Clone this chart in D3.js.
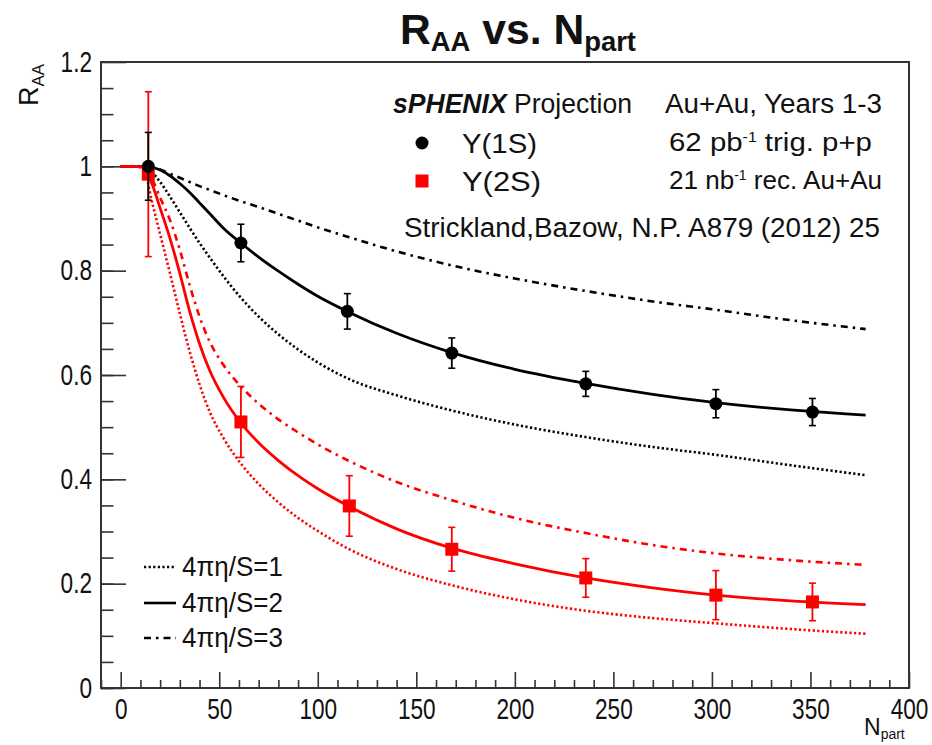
<!DOCTYPE html>
<html lang="en">
  <head>
    <meta charset="utf-8">
    <title>RAA vs. Npart</title>
    <script src="https://cdn.jsdelivr.net/npm/d3@7"></script>
    <style>
      body { margin: 0; background: #fff; }
      text { font-family: "Liberation Sans", Arial, Helvetica, sans-serif; fill: #111; }
    </style>
  </head>
  <body>
    <script>
      // Y(1S) projected points
      var nPart1S = [14, 61, 115, 168, 236, 302, 351]
      var raa1S   = [1.0, 0.853, 0.722, 0.642, 0.583, 0.545, 0.529]
      var err1S   = [0.065, 0.036, 0.034, 0.029, 0.024, 0.027, 0.026]

      // Y(2S) projected points
      var nPart2S = [14, 61, 116, 168, 236, 302, 351]
      var raa2S   = [0.985, 0.51, 0.349, 0.266, 0.211, 0.178, 0.165]
      var err2S   = [0.158, 0.068, 0.058, 0.042, 0.037, 0.047, 0.036]

      // model curves (Strickland, Bazow), sampled on a common Npart grid
      var curveN    = [0, 8, 12, 16, 20, 25, 30, 35, 40, 45, 52, 61, 70, 80, 90, 100, 116, 140, 168, 200, 236, 270, 302, 340, 378]
      var r1S_eta1  = [1, 1, 0.998, 0.988, 0.97, 0.942, 0.912, 0.882, 0.853, 0.826, 0.79, 0.748, 0.712, 0.678, 0.649, 0.624, 0.592, 0.561, 0.532, 0.505, 0.481, 0.462, 0.447, 0.427, 0.408]
      var r1S_eta2  = [1, 1, 1, 0.998, 0.993, 0.982, 0.967, 0.95, 0.93, 0.91, 0.882, 0.853, 0.826, 0.799, 0.774, 0.751, 0.72, 0.68, 0.643, 0.611, 0.584, 0.563, 0.547, 0.533, 0.523]
      var r1S_eta3  = [1, 1, 1, 0.998, 0.994, 0.986, 0.978, 0.97, 0.962, 0.955, 0.945, 0.933, 0.922, 0.909, 0.896, 0.883, 0.864, 0.837, 0.81, 0.785, 0.761, 0.741, 0.725, 0.705, 0.688]
      var r2S_eta1  = [1, 1, 0.99, 0.93, 0.87, 0.795, 0.718, 0.645, 0.582, 0.531, 0.48, 0.43, 0.391, 0.356, 0.326, 0.301, 0.266, 0.228, 0.197, 0.17, 0.148, 0.134, 0.124, 0.113, 0.104]
      var r2S_eta2  = [1, 1, 0.997, 0.965, 0.92, 0.862, 0.795, 0.722, 0.66, 0.61, 0.558, 0.508, 0.47, 0.436, 0.407, 0.382, 0.348, 0.305, 0.268, 0.238, 0.211, 0.192, 0.178, 0.167, 0.16]
      var r2S_eta3  = [1, 1, 0.998, 0.975, 0.94, 0.897, 0.84, 0.772, 0.712, 0.665, 0.62, 0.578, 0.545, 0.515, 0.49, 0.467, 0.435, 0.395, 0.36, 0.326, 0.297, 0.274, 0.258, 0.245, 0.236]

      // axis ticks
      var xMajorTicks = [0, 50, 100, 150, 200, 250, 300, 350, 400]
      var yMajorTicks = [0, 0.2, 0.4, 0.6, 0.8, 1.0, 1.2]
      var legendLabels = ['4\u03c0\u03b7/S=1', '4\u03c0\u03b7/S=2', '4\u03c0\u03b7/S=3']

      var width = 932, height = 745
      var svg = d3.select('body').append('svg').attr('width', width).attr('height', height)

      var x = d3.scaleLinear().domain([-10, 400]).range([101, 909])
      var y = d3.scaleLinear().domain([0, 1.2]).range([688, 62])

      var dotted = '2.2,2.4', dashDot = '7,5,2.5,5'

      // ---- axes (ROOT style: ticks inside the frame) ----
      var labelScale = 0.78
      var xAxis = svg.append('g').attr('transform', 'translate(0,688)')
        .call(d3.axisBottom(x).tickValues(xMajorTicks).tickSize(-16).tickPadding(10))
      var xMinor = svg.append('g').attr('transform', 'translate(0,688)')
        .call(d3.axisBottom(x).tickValues(d3.range(-10, 400, 10).filter(function(d) { return d % 50 != 0 }))
          .tickSize(-8).tickFormat(''))

      var yAxis = svg.append('g').attr('transform', 'translate(101,0)')
        .call(d3.axisLeft(y).tickValues(yMajorTicks).tickSize(-25).tickPadding(9)
          .tickFormat(function(d) { return (d == 0 || d == 1) ? d3.format('d')(d) : d3.format('.1f')(d) }))
      var yMinor = svg.append('g').attr('transform', 'translate(101,0)')
        .call(d3.axisLeft(y).tickValues(d3.range(0, 1.2, 0.05)).tickSize(-12.5).tickFormat(''))

      svg.selectAll('.domain').remove()
      svg.selectAll('.tick line').attr('stroke', '#333').attr('stroke-width', 1.6)
      xAxis.selectAll('text').attr('font-size', 29).attr('fill', '#111')
        .attr('transform', 'scale(' + labelScale + ',1)')
      yAxis.selectAll('text').attr('font-size', 29).attr('fill', '#111')
        .attr('x', -9 / labelScale).attr('transform', 'scale(' + labelScale + ',1)')

      // frame
      svg.append('rect').attr('x', 101).attr('y', 62).attr('width', 808).attr('height', 626)
        .attr('fill', 'none').attr('stroke', '#333').attr('stroke-width', 2)

      // ---- model curves ----
      var line = d3.line()
        .x(function(d) { return x(d[0]) })
        .y(function(d) { return y(d[1]) })
        .curve(d3.curveMonotoneX)

      var curves = [
        { values: r1S_eta1, color: '#000', dash: dotted, w: 2.6 },
        { values: r1S_eta3, color: '#000', dash: dashDot, w: 2.6 },
        { values: r1S_eta2, color: '#000', dash: null, w: 2.8 },
        { values: r2S_eta1, color: '#ff0000', dash: dotted, w: 2.6 },
        { values: r2S_eta3, color: '#ff0000', dash: dashDot, w: 2.6 },
        { values: r2S_eta2, color: '#ff0000', dash: null, w: 2.8 }
      ]
      curves.forEach(function(c) {
        svg.append('path')
          .datum(d3.zip(curveN, c.values))
          .attr('d', line)
          .attr('fill', 'none')
          .attr('stroke', c.color)
          .attr('stroke-width', c.w)
          .attr('stroke-dasharray', c.dash)
      })

      // ---- points with error bars ----
      function drawPoints(ns, vals, errs, color, shape) {
        var g = svg.append('g')
        var pts = d3.zip(ns, vals, errs)
        g.selectAll('line.err').data(pts).enter().append('line')
          .attr('x1', function(d) { return x(d[0]) }).attr('x2', function(d) { return x(d[0]) })
          .attr('y1', function(d) { return y(d[1] - d[2]) }).attr('y2', function(d) { return y(d[1] + d[2]) })
          .attr('stroke', color).attr('stroke-width', 1.8)
        ;['lo', 'hi'].forEach(function(side) {
          g.selectAll('line.cap' + side).data(pts).enter().append('line')
            .attr('x1', function(d) { return x(d[0]) - 3.5 }).attr('x2', function(d) { return x(d[0]) + 3.5 })
            .attr('y1', function(d) { return y(side == 'lo' ? d[1] - d[2] : d[1] + d[2]) })
            .attr('y2', function(d) { return y(side == 'lo' ? d[1] - d[2] : d[1] + d[2]) })
            .attr('stroke', color).attr('stroke-width', 1.6)
        })
        if (shape == 'circle') {
          g.selectAll('circle').data(pts).enter().append('circle')
            .attr('cx', function(d) { return x(d[0]) }).attr('cy', function(d) { return y(d[1]) })
            .attr('r', 6.5).attr('fill', color)
        } else {
          g.selectAll('rect').data(pts).enter().append('rect')
            .attr('x', function(d) { return x(d[0]) - 6.5 }).attr('y', function(d) { return y(d[1]) - 6.5 })
            .attr('width', 13).attr('height', 13).attr('fill', color)
        }
      }
      drawPoints(nPart2S, raa2S, err2S, '#ff0000', 'square')
      drawPoints(nPart1S, raa1S, err1S, '#000', 'circle')

      // ---- text helpers ----
      function addText(px, py, size, len, parts, opts) {
        opts = opts || {}
        var t = svg.append('text').attr('x', px).attr('y', py).attr('font-size', size)
        if (len) t.attr('textLength', len).attr('lengthAdjust', 'spacingAndGlyphs')
        if (opts.anchor) t.attr('text-anchor', opts.anchor)
        if (opts.weight) t.attr('font-weight', opts.weight)
        parts.forEach(function(p) {
          var s = t.append('tspan').text(p.t)
          if (p.size) s.attr('font-size', p.size)
          if (p.dy) s.attr('dy', p.dy)
          if (p.italic) s.attr('font-style', 'italic')
          if (p.bold) s.attr('font-weight', 'bold')
        })
        return t
      }

      // title
      addText(400, 44, 42, 236, [
        { t: 'R' }, { t: 'AA', size: 27, dy: 7 }, { t: ' vs. ', dy: -7 },
        { t: 'N' }, { t: 'part', size: 27, dy: 7 }
      ], { weight: 'bold' })

      // y-axis title (rotated)
      var yt = svg.append('text').attr('transform', 'translate(38,106) rotate(-90)').attr('font-size', 27)
      yt.append('tspan').text('R')
      yt.append('tspan').text('AA').attr('font-size', 17).attr('dy', 6)

      // x-axis title
      var xt = svg.append('text').attr('x', 864).attr('y', 735).attr('font-size', 23)
      xt.append('tspan').text('N')
      xt.append('tspan').text('part').attr('font-size', 14).attr('dy', 4)

      // top-right legend
      addText(393, 113, 27, 239, [{ t: 'sPHENIX', bold: true, italic: true }, { t: ' Projection' }])
      addText(665, 113, 27, 217, [{ t: 'Au+Au, Years 1-3' }])
      svg.append('circle').attr('cx', 422).attr('cy', 143).attr('r', 6.5).attr('fill', '#000')
      addText(462, 153, 27, 75, [{ t: '\u03a5(1S)' }])
      addText(669, 151, 26, 203, [{ t: '62 pb' }, { t: '-1', size: 14, dy: -9 }, { t: ' trig. p+p', dy: 9 }])
      svg.append('rect').attr('x', 415.5).attr('y', 174.5).attr('width', 13).attr('height', 13).attr('fill', '#ff0000')
      addText(462, 191, 27, 79, [{ t: '\u03a5(2S)' }])
      addText(669, 189, 26, 213, [{ t: '21 nb' }, { t: '-1', size: 14, dy: -9 }, { t: ' rec. Au+Au', dy: 9 }])
      addText(404, 237, 27, 476, [{ t: 'Strickland,Bazow, N.P. A879 (2012) 25' }])

      // bottom-left legend (line styles)
      var legendY = [567, 603, 638]
      var legendDash = [dotted, null, dashDot]
      legendLabels.forEach(function(lab, i) {
        svg.append('line').attr('x1', 144).attr('x2', 176).attr('y1', legendY[i]).attr('y2', legendY[i])
          .attr('stroke', '#000').attr('stroke-width', 2.6).attr('stroke-dasharray', legendDash[i])
        addText(182, legendY[i] + 9, 27, 101, [{ t: lab }])
      })
    </script>
  </body>
</html>
